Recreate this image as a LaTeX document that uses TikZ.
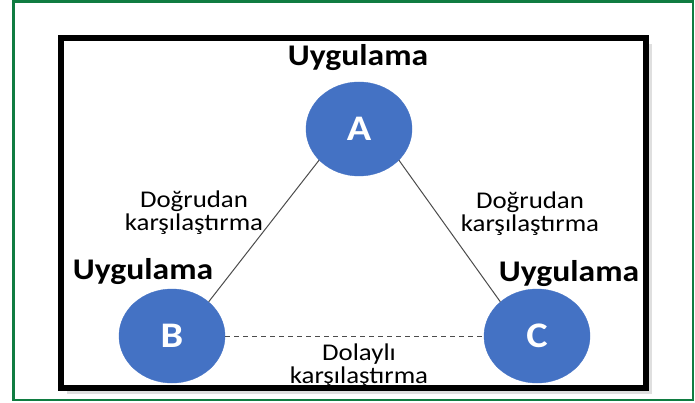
\documentclass[tikz,border=0pt]{standalone}
\usepackage{fontspec}
\setmainfont{Carlito}[FakeStretch=1.12]
\usetikzlibrary{shapes.geometric, shadows}

\definecolor{framegreen}{RGB}{16,124,65}
\definecolor{appblue}{RGB}{68,114,196}

\begin{document}
\begin{tikzpicture}[x=1pt, y=1pt,
    app/.style={ellipse, fill=appblue, draw=appblue, minimum width=106pt,
      minimum height=94pt, inner sep=0pt, text=white,
      font=\fontsize{36}{36}\selectfont\bfseries},
    applabel/.style={anchor=base, font=\fontsize{30}{30}\selectfont\bfseries},
    cmplabel/.style={anchor=base, align=center, font=\fontsize{24}{22.5}\selectfont},
    link/.style={draw=black!70, line width=1pt}]
  \useasboundingbox (0,0) rectangle (695,402);

  % frames
  \draw[framegreen, line width=2.5pt] (13.5,2) rectangle (693,400.5);
  \draw[line width=6pt, fill=white,
    drop shadow={shadow xshift=6pt, shadow yshift=-6pt, opacity=0.25}]
    (61,14) rectangle (646,364);

  % applications
  \node[app] (A) at (359,273) {A};
  \node[app] (B) at (172,66) {B};
  \node[app] (C) at (537,66) {C};

  \node[applabel] (labA) at (358,336) {Uygulama};
  \node[applabel] (labB) at (143,123) {Uygulama};
  \node[applabel] (labC) at (569,121) {Uygulama};

  % comparisons
  \draw[link] (A.218) -- (B.43);
  \draw[link] (A.322) -- (C.137);
  \draw[link, dash pattern=on 5pt off 4pt] (B.east) -- (C.west);

  % base = last line
  \node[cmplabel] (dirAB) at (194,172) {Doğrudan\\karşılaştırma};
  \node[cmplabel] (dirAC) at (530,171) {Doğrudan\\karşılaştırma};
  \node[cmplabel] (indBC) at (359,19) {Dolaylı\\karşılaştırma};
\end{tikzpicture}
\end{document}
